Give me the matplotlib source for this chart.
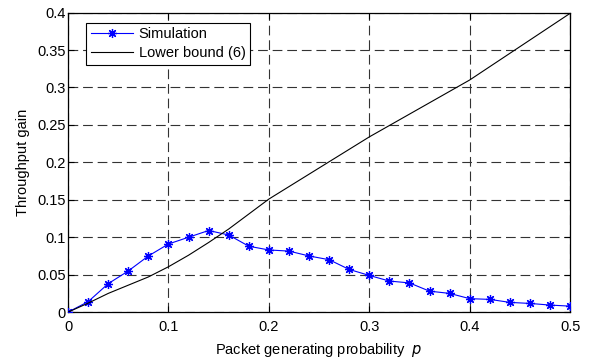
import numpy as np
import matplotlib
matplotlib.use("Agg")
import matplotlib.pyplot as plt

# simulated throughput gain, p = 0, 0.02, ..., 0.5
p_sim = [0.00, 0.02, 0.04, 0.06, 0.08, 0.10, 0.12, 0.14, 0.16, 0.18, 0.20, 0.22, 0.24,
         0.26, 0.28, 0.30, 0.32, 0.34, 0.36, 0.38, 0.40, 0.42, 0.44, 0.46, 0.48, 0.50]
gain_sim = [0.000, 0.014, 0.038, 0.055, 0.075, 0.091, 0.100, 0.109, 0.103, 0.088, 0.083,
            0.0815, 0.075, 0.070, 0.057, 0.049, 0.0415, 0.039, 0.028, 0.025, 0.018, 0.017,
            0.013, 0.0116, 0.0094, 0.008]

# lower bound (6)
p_lb = [0.00, 0.02, 0.04, 0.06, 0.08, 0.10, 0.12, 0.14, 0.16, 0.18, 0.20, 0.30, 0.40, 0.50]
gain_lb = [0.000, 0.012, 0.025, 0.036, 0.047, 0.0606, 0.076, 0.093, 0.111, 0.131, 0.151,
           0.234, 0.310, 0.399]

xticks = [0, 0.1, 0.2, 0.3, 0.4, 0.5]
yticks = [0, 0.05, 0.1, 0.15, 0.2, 0.25, 0.3, 0.35, 0.4]

plt.rcParams["font.family"] = ["Liberation Sans", "DejaVu Sans"]
plt.rcParams["font.size"] = 10.5
plt.rcParams["lines.scale_dashes"] = False

fig = plt.figure(figsize=(5.92, 3.6), dpi=100)
ax = fig.add_axes([0.115, 0.133, 0.848, 0.832])

ax.plot(p_sim, gain_sim, color="#0000ff", lw=0.8, marker=(8, 2, 0), ms=6.5,
        mew=0.9, label="Simulation", zorder=3)
ax.plot(p_lb, gain_lb, color="black", lw=0.8, label="Lower bound (6)", zorder=3)

ax.set_xlim(0, 0.5)
ax.set_ylim(0, 0.4)
ax.set_xticks(xticks)
ax.set_yticks(yticks)
ax.set_xticklabels([f"{v:g}" for v in xticks])
ax.set_yticklabels([f"{v:g}" for v in yticks])
ax.tick_params(direction="in", top=True, right=True, length=4, width=0.8)
ax.tick_params(axis="x", pad=6)
ax.tick_params(axis="y", pad=1.5)
for s in ax.spines.values():
    s.set_linewidth(0.9)

ax.grid(True, color="#333333", lw=0.8, linestyle=(0, (7, 3.5)))
ax.set_axisbelow(True)

ax.set_xlabel(r"Packet generating probability  $\it{p}$", labelpad=5)
ax.set_ylabel("Throughput gain", labelpad=5)

leg = ax.legend(loc="upper left", bbox_to_anchor=(0.036, 0.966), handlelength=2.9,
                fancybox=False, framealpha=1, edgecolor="black",
                borderaxespad=0, handletextpad=0.4, borderpad=0.3, labelspacing=0.35)
leg.get_frame().set_linewidth(0.8)

fig.savefig("out.png", dpi=100)
